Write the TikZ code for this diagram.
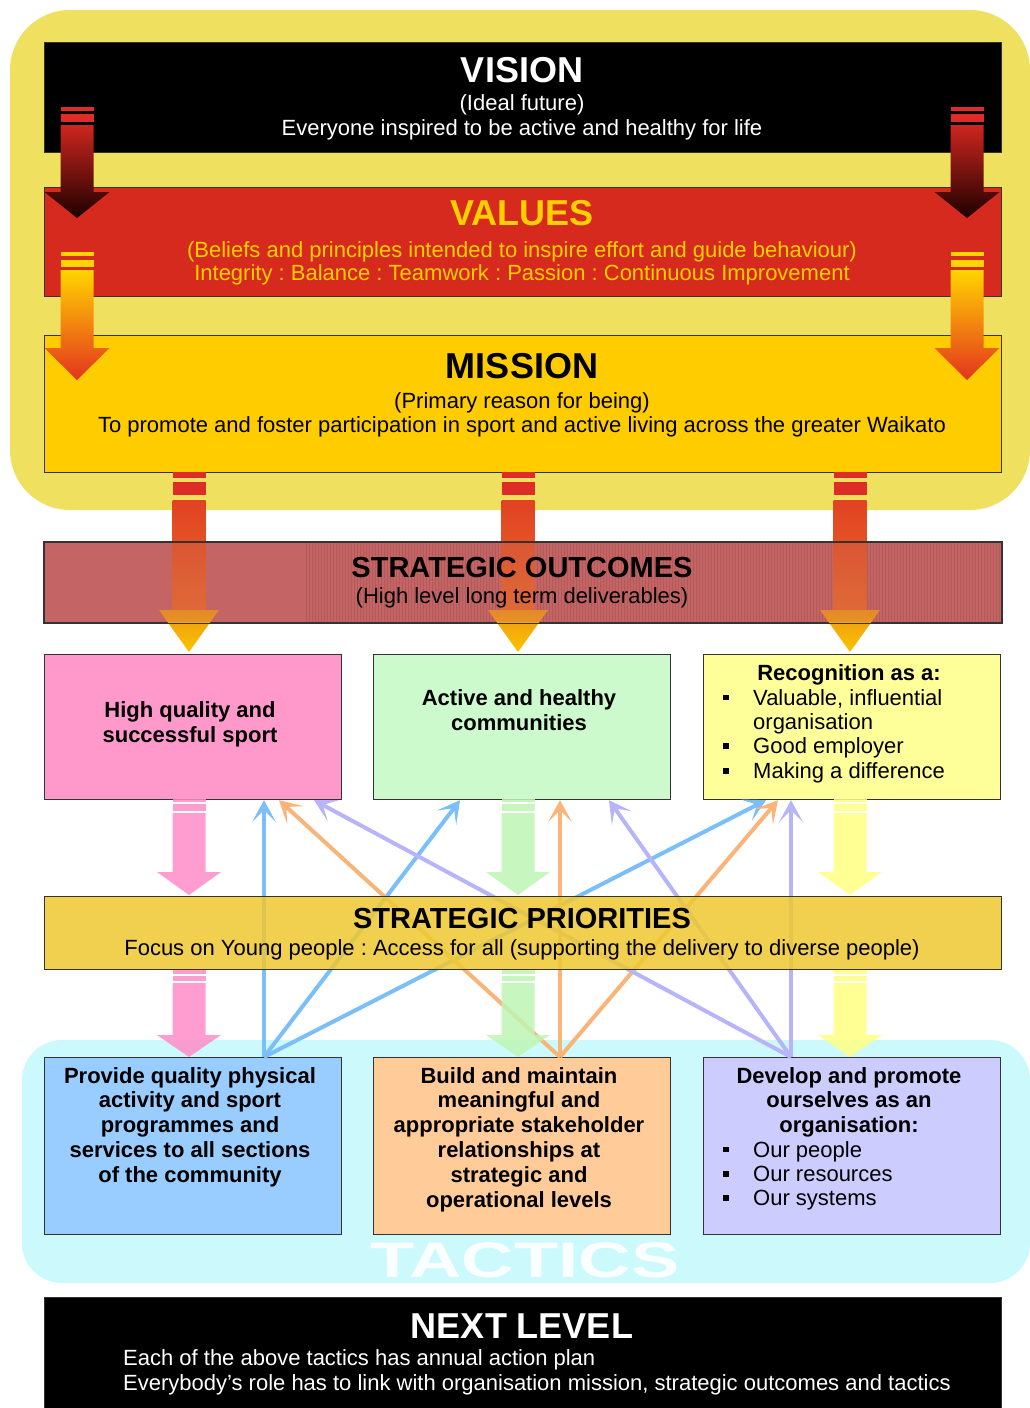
\documentclass[tikz,border=0pt]{standalone}
\usepackage{graphicx}
\usepackage{fontspec}
\setmainfont{Liberation Sans}
\usetikzlibrary{arrows.meta,patterns,calc}
\frenchspacing
\newcommand\fsz[2]{\fontsize{#1}{#2}\selectfont}
\newcommand\sqbul{\rule[0.22em]{0.26em}{0.26em}}
\newcommand\blt{\llap{\sqbul\hspace{24pt}}}
\newcommand\fatarr[6]{\path[#6] ({#1-16.5},#2) -- ({#1+16.5},#2) -- ({#1+16.5},#3) -- ({#1+#5},#3) -- (#1,#4) -- ({#1-#5},#3) -- ({#1-16.5},#3) -- cycle;}
\newcommand\arstripe[4]{\fill[#4] ({#1-16.5},#2) rectangle ({#1+16.5},#3);}
\definecolor{ybg}{RGB}{240,224,96}
\definecolor{cbg}{RGB}{204,250,252}
\definecolor{vred}{RGB}{214,42,30}
\definecolor{mgold}{RGB}{255,204,0}
\definecolor{vyel}{RGB}{255,208,0}
\definecolor{obar}{RGB}{196,100,100}
\definecolor{pgold}{RGB}{238,200,48}
\definecolor{bpink}{RGB}{255,153,204}
\definecolor{bgreen}{RGB}{204,250,204}
\definecolor{byel}{RGB}{255,255,153}
\definecolor{bblue}{RGB}{153,204,255}
\definecolor{borange}{RGB}{255,204,153}
\definecolor{blav}{RGB}{204,204,255}
\definecolor{lblue}{RGB}{122,190,250}
\definecolor{lorange}{RGB}{250,180,120}
\definecolor{llav}{RGB}{184,180,250}
\definecolor{apink}{RGB}{255,140,200}
\definecolor{agreen}{RGB}{190,245,180}
\definecolor{ayel}{RGB}{255,255,130}
\definecolor{sred}{RGB}{222,45,40}
\definecolor{ar1}{RGB}{205,38,30}
\definecolor{ar2}{RGB}{30,0,0}
\definecolor{ay1}{RGB}{255,212,0}
\definecolor{ay2}{RGB}{228,52,30}
\definecolor{am1}{RGB}{225,66,35}
\definecolor{am2}{RGB}{232,108,40}
\definecolor{ah1}{RGB}{240,150,20}
\definecolor{ah2}{RGB}{250,196,0}
\tikzset{
  bx/.style={draw=black!80, line width=1.2pt, inner sep=0pt, anchor=north west},
  tx/.style={anchor=base, inner sep=0pt, font=\fsz{22}{25}},
  hd/.style={anchor=base, inner sep=0pt, font=\bfseries\fsz{36}{40}},
  sh/.style={anchor=base, inner sep=0pt, font=\bfseries\fsz{29}{32}},
  ml/.style={anchor=north, inner sep=0pt, align=center, font=\bfseries\fsz{22}{24.8}},
  thinA/.style={line width=4pt, -{Stealth[length=22pt,width=24pt,inset=12pt]}},
}
\begin{document}
\begin{tikzpicture}[x=1pt,y=-1pt]
\useasboundingbox (0,0) rectangle (1029,1408);
\fill[white] (0,0) rectangle (1029,1408);
% backgrounds
\fill[ybg, rounded corners=60pt] (10,10) rectangle (1030,510);
\fill[cbg, rounded corners=40pt] (22,1040) rectangle (1030,1283);
\node[anchor=base, inner sep=0pt, text=white, opacity=0.9, font=\bfseries\fsz{50}{50}] (tactxt) at (525,1277) {\scalebox{1.45}[1]{TACTICS}};
% top boxes
\node[bx, fill=black, minimum width=957pt, minimum height=110pt] (vision) at (44,42) {};
\node[bx, fill=vred, minimum width=957pt, minimum height=109pt] (values) at (44,187) {};
\node[bx, fill=mgold, minimum width=957pt, minimum height=137pt] (mission) at (44,335) {};
% vision -> values arrows
\foreach \xx in {77,967}{
  \arstripe{\xx}{107}{111}{sred}
  \arstripe{\xx}{114}{122}{sred}
  \fatarr{\xx}{125}{192}{218}{32.5}{top color=ar1, bottom color=ar2}
}
% values -> mission arrows
\foreach \xx in {77,967}{
  \arstripe{\xx}{252}{256}{ay1}
  \arstripe{\xx}{260}{267}{ay1}
  \fatarr{\xx}{270}{348}{380}{32.5}{top color=ay1, bottom color=ay2}
}
% strategic outcomes bar
\node[bx, fill=obar, minimum width=957pt, minimum height=80pt] (outc) at (44,542) {};
\fill[pattern=vertical lines, pattern color=obar!75!black, opacity=0.5] (305,543) rectangle (1000,621);
\foreach \xx in {189,518,850}{
  \arstripe{\xx}{472}{478}{sred}
  \arstripe{\xx}{482}{495}{sred}
  \shade[top color=am1, bottom color=am2] ({\xx-16.5},500) rectangle ({\xx+16.5},610);
  \shade[top color=ah1, bottom color=ah2] ({\xx-30},610) -- ({\xx+30},610) -- (\xx,652) -- cycle;
}
\fill[obar, opacity=0.25] (44,542) rectangle (1001,622);
\draw[line width=1.2pt, black!80] (outc.north west) rectangle (outc.south east);
% outcome boxes
\node[bx, fill=bpink, minimum width=297pt, minimum height=145pt] (oA) at (44,654) {};
\node[bx, fill=bgreen, minimum width=297pt, minimum height=145pt] (oB) at (373,654) {};
\node[bx, fill=byel, minimum width=297pt, minimum height=145pt] (oC) at (703,654) {};
% tactic boxes
\node[bx, fill=bblue, minimum width=297pt, minimum height=177pt] (tA) at (44,1057) {};
\node[bx, fill=borange, minimum width=297pt, minimum height=177pt] (tB) at (373,1057) {};
\node[bx, fill=blav, minimum width=297pt, minimum height=177pt] (tC) at (703,1057) {};
% thin connectors
\draw[thinA, lblue] ($(tA.north west)+(220,0)$) -- ($(oA.south west)+(220,0)$);
\draw[thinA, lblue] ($(tA.north west)+(220,0)$) -- ($(oB.south west)+(87,0)$);
\draw[thinA, lblue] ($(tA.north west)+(220,0)$) -- ($(oC.south west)+(63,0)$);
\draw[thinA, lorange] ($(tB.north west)+(187,0)$) -- ($(oA.south west)+(235,0)$);
\draw[thinA, lorange] ($(tB.north west)+(187,0)$) -- ($(oB.south west)+(187,0)$);
\draw[thinA, lorange] ($(tB.north west)+(187,0)$) -- ($(oC.south west)+(75,0)$);
\draw[thinA, llav] ($(tC.north west)+(88,0)$) -- ($(oA.south west)+(270,0)$);
\draw[thinA, llav] ($(tC.north west)+(88,0)$) -- ($(oB.south west)+(236,0)$);
\draw[thinA, llav] ($(tC.north west)+(88,0)$) -- ($(oC.south west)+(88,0)$);
% strategic priorities bar
\node[bx, fill=pgold, fill opacity=0.85, minimum width=957pt, minimum height=73pt] (prio) at (44,896) {};
% pastel arrows
\foreach \xx/\cc in {189/apink,518/agreen,850/ayel}{
  \arstripe{\xx}{799}{802}{\cc, opacity=0.85}
  \arstripe{\xx}{804}{811}{\cc, opacity=0.85}
  \fatarr{\xx}{813}{872}{895}{32}{fill=\cc, opacity=0.85}
  \arstripe{\xx}{970}{974}{\cc, opacity=0.85}
  \arstripe{\xx}{976}{981}{\cc, opacity=0.85}
  \fatarr{\xx}{983}{1035}{1057}{32}{fill=\cc, opacity=0.85}
}
% next level box
\node[bx, fill=black, minimum width=957pt, minimum height=115pt] (nextl) at (44,1297) {};
% texts
\node[hd, text=white] (visT) at (522,82) {VISION};
\node[tx, text=white] (visS) at (522,110) {(Ideal future)};
\node[tx, text=white] (visL) at (522,135) {Everyone inspired to be active and healthy for life};
\node[hd, text=vyel] (valT) at (522,225) {VALUES};
\node[tx, text=vyel] (valS) at (522,257) {(Beliefs and principles intended to inspire effort and guide behaviour)};
\node[tx, text=vyel] (valL) at (522,280) {Integrity : Balance : Teamwork : Passion : Continuous Improvement};
\node[hd] (misT) at (522,378) {MISSION};
\node[tx] (misS) at (522,408) {(Primary reason for being)};
\node[tx] (misL) at (522,432) {To promote and foster participation in sport and active living across the greater Waikato};
\node[sh] (outT) at (522,577) {STRATEGIC OUTCOMES};
\node[tx] (outS) at (522,603) {(High level long term deliverables)};
\node[sh] (priT) at (522,928) {STRATEGIC PRIORITIES};
\node[tx] (priS) at (522,955) {Focus on Young people : Access for all (supporting the delivery to diverse people)};
\node[ml, font=\bfseries\fsz{22}{25}] (oAt) at (190,699.5) {\strut High quality and\\successful sport};
\node[ml, font=\bfseries\fsz{22}{25}] (oBt) at (519,687.5) {\strut Active and healthy\\communities};
\node[anchor=base, inner sep=0pt, font=\bfseries\fsz{22}{25}] (oCt) at (849,680) {Recognition as a:};
\node[anchor=north west, inner sep=0pt, align=left, font=\fsz{22}{24.4}] (oCl) at (753,687.9) {\strut\blt Valuable, influential\\organisation\\\blt Good employer\\\blt Making a difference};
\node[ml] (tAt) at (190,1065.6) {\strut Provide quality physical\\activity and sport\\programmes and\\services to all sections\\of the community};
\node[ml] (tBt) at (519,1065.6) {\strut Build and maintain\\meaningful and\\appropriate stakeholder\\relationships at\\strategic and\\operational levels};
\node[ml] (tCt) at (849,1065.6) {\strut Develop and promote\\ourselves as an\\organisation:};
\node[anchor=north west, inner sep=0pt, align=left, font=\fsz{22}{24.4}] (tCl) at (753,1139.9) {\strut\blt Our people\\\blt Our resources\\\blt Our systems};
\node[hd, text=white] (nxtT) at (522,1338) {NEXT LEVEL};
\node[tx, anchor=base west, text=white] (nxt1) at (123,1365) {Each of the above tactics has annual action plan};
\node[tx, anchor=base west, text=white] (nxt2) at (123,1390) {Everybody’s role has to link with organisation mission, strategic outcomes and tactics};
\end{tikzpicture}
\end{document}
